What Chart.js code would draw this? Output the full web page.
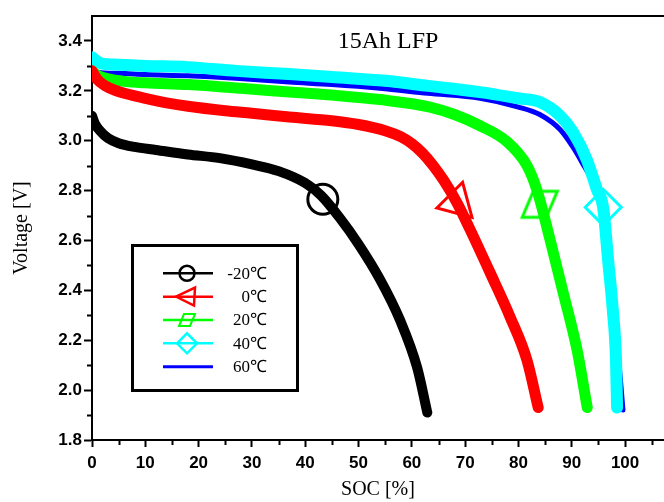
<!DOCTYPE html>
<html>
<head>
<meta charset="utf-8">
<script src="https://cdn.jsdelivr.net/npm/chart.js@4.4.1/dist/chart.umd.min.js"></script>
<style>
  html, body { margin: 0; padding: 0; background: #fff; }
</style>
</head>
<body>
<canvas id="chart" width="664" height="502"></canvas>
<script>
// discharge curves (SOC in %, voltage in V)
const socM20 = [0, 0.5, 1.5, 3, 5, 8, 12, 18, 24, 30, 35, 40, 43, 46.5, 50, 54, 57.8, 61, 62.9];
const vM20 = [3.10, 3.07, 3.04, 3.01, 2.99, 2.975, 2.963, 2.945, 2.93, 2.905, 2.878, 2.83, 2.78, 2.69, 2.585, 2.445, 2.28, 2.09, 1.91];

const soc0 = [0, 1, 2.5, 4, 7, 10, 14, 18, 25, 30, 37, 45, 50, 55, 58, 60, 62, 64, 66, 68.5, 70.9, 74.7, 78.4, 81.6, 83.7];
const v0 = [3.28, 3.245, 3.22, 3.205, 3.185, 3.17, 3.152, 3.138, 3.12, 3.11, 3.095, 3.08, 3.065, 3.04, 3.015, 2.988, 2.95, 2.9, 2.84, 2.75, 2.645, 2.47, 2.295, 2.12, 1.93];

const soc20 = [0, 1, 3, 6, 10, 18, 28, 37, 45, 54, 63.4, 68, 72.8, 77.9, 81.6, 83.5, 85.9, 88.4, 91, 92.9];
const v20 = [3.28, 3.262, 3.248, 3.238, 3.232, 3.225, 3.21, 3.195, 3.183, 3.165, 3.135, 3.105, 3.06, 2.995, 2.90, 2.80, 2.605, 2.39, 2.16, 1.93];

const soc40 = [0, 0.5, 1.7, 5, 10, 18, 27, 37, 45, 55, 63, 72.8, 80, 84, 87.8, 90.2, 92.8, 94.7, 95.9, 96.8, 97.7, 98.3, 98.5];
const v40 = [3.335, 3.325, 3.31, 3.305, 3.30, 3.295, 3.28, 3.267, 3.255, 3.24, 3.22, 3.195, 3.17, 3.155, 3.10, 3.035, 2.925, 2.805, 2.73, 2.525, 2.32, 2.12, 1.93];

const soc60 = [0, 1, 5, 10, 18, 27, 37, 45, 54, 63, 72.8, 80, 84, 87.8, 90.2, 92, 94, 95.5, 96.8, 97.7, 98.7, 99.6];
const v60 = [3.29, 3.275, 3.27, 3.265, 3.26, 3.25, 3.235, 3.225, 3.21, 3.19, 3.17, 3.135, 3.105, 3.045, 2.975, 2.91, 2.83, 2.74, 2.58, 2.39, 2.15, 1.92];

// one symbol per curve
const markerSoc = [43.3, 68.5, 84.0, 95.9];
const markerV = [2.765, 2.752, 2.745, 2.733];

const labels = ['-20℃', '0℃', '20℃', '40℃', '60℃'];
const colors = ['#000000', '#ff0000', '#00ff00', '#00ffff', '#0000ff'];

const toPoints = (xs, ys) => xs.map((x, i) => ({ x: x, y: ys[i] }));

// green symbol is a slanted box, not a plain square
function parallelogram(pw, ph, sk, lw, color) {
  const c = document.createElement('canvas');
  c.width = pw + sk + lw * 2 + 2;
  c.height = ph + lw * 2 + 2;
  const g = c.getContext('2d');
  const o = lw + 1;
  g.strokeStyle = color;
  g.lineWidth = lw;
  g.beginPath();
  g.moveTo(o + sk, o);
  g.lineTo(o + sk + pw, o);
  g.lineTo(o + pw, o + ph);
  g.lineTo(o, o + ph);
  g.closePath();
  g.stroke();
  return c;
}

const greenBox = parallelogram(24, 26, 11, 3, '#00ff00');
const greenBoxSmall = parallelogram(11, 12, 5, 2, '#00ff00');

const curves = [
  { soc: socM20, v: vM20, width: 10, order: 1 },
  { soc: soc0, v: v0, width: 11, order: 1 },
  { soc: soc20, v: v20, width: 11, order: 1 },
  { soc: soc40, v: v40, width: 12, order: 2 },
  { soc: soc60, v: v60, width: 5, order: 3 }
];

const markerStyles = [
  { style: 'circle', radius: 15, rotation: 0 },
  { style: 'triangle', radius: 21, rotation: -105 },
  { style: greenBox, radius: 14, rotation: 0 },
  { style: 'rectRot', radius: 18, rotation: 0 }
];

const datasets = curves.map((c, i) => ({
  label: labels[i],
  data: toPoints(c.soc, c.v),
  borderColor: colors[i],
  backgroundColor: colors[i],
  borderWidth: c.width,
  borderCapStyle: 'round',
  borderJoinStyle: 'round',
  cubicInterpolationMode: 'monotone',
  pointRadius: 0,
  fill: false,
  order: c.order
}));

markerStyles.forEach((m, i) => {
  datasets.push({
    label: labels[i] + ' marker',
    data: [{ x: markerSoc[i], y: markerV[i] }],
    showLine: false,
    pointStyle: m.style,
    pointRadius: m.radius,
    pointRotation: m.rotation,
    pointBorderWidth: 3,
    pointBorderColor: colors[i],
    pointBackgroundColor: 'rgba(0,0,0,0)',
    order: 0
  });
});

function legendMarker(ctx, i, x, y) {
  ctx.strokeStyle = colors[i];
  ctx.lineWidth = 2.5;
  ctx.beginPath();
  if (i === 0) {
    ctx.arc(x, y, 7.5, 0, Math.PI * 2);
  } else if (i === 1) {
    ctx.moveTo(x - 11, y);
    ctx.lineTo(x + 8, y - 9);
    ctx.lineTo(x + 7, y + 9);
    ctx.closePath();
  } else if (i === 3) {
    ctx.moveTo(x - 10, y);
    ctx.lineTo(x, y - 10);
    ctx.lineTo(x + 10, y);
    ctx.lineTo(x, y + 10);
    ctx.closePath();
  }
  ctx.stroke();
  if (i === 2) {
    ctx.drawImage(greenBoxSmall, x - greenBoxSmall.width / 2, y - greenBoxSmall.height / 2);
  }
}

const decorations = {
  id: 'decorations',
  afterDraw(chart) {
    const ctx = chart.ctx;
    const area = chart.chartArea;
    const xs = chart.scales.x;
    const ys = chart.scales.y;
    ctx.save();

    // top frame line
    ctx.strokeStyle = '#000';
    ctx.lineWidth = 2;
    ctx.beginPath();
    ctx.moveTo(area.left, area.top);
    ctx.lineTo(area.right, area.top);
    ctx.stroke();

    // minor ticks
    ctx.beginPath();
    for (let v = 5; v <= xs.max; v += 10) {
      const px = Math.round(xs.getPixelForValue(v)) + 0.5;
      ctx.moveTo(px, area.bottom);
      ctx.lineTo(px, area.bottom + 5);
    }
    for (let v = 1.9; v < ys.max; v += 0.2) {
      const py = Math.round(ys.getPixelForValue(v)) + 0.5;
      ctx.moveTo(area.left - 5, py);
      ctx.lineTo(area.left, py);
    }
    ctx.stroke();

    // title inside the plot
    ctx.fillStyle = '#000';
    ctx.font = '24px "Liberation Serif", "Times New Roman", serif';
    ctx.textAlign = 'center';
    ctx.textBaseline = 'alphabetic';
    ctx.fillText('15Ah LFP', 388, 48);

    // legend box
    ctx.lineWidth = 3;
    ctx.strokeRect(132.5, 245.5, 165, 145);
    ctx.font = '17px "Liberation Serif", "Times New Roman", serif';
    ctx.textAlign = 'right';
    ctx.textBaseline = 'middle';
    labels.forEach((lab, i) => {
      const y = 273.3 + i * 23.35;
      ctx.strokeStyle = colors[i];
      ctx.lineWidth = i === 4 ? 3 : 2.5;
      ctx.beginPath();
      ctx.moveTo(163, y);
      ctx.lineTo(213, y);
      ctx.stroke();
      if (i < 4) legendMarker(ctx, i, 187, y);
      ctx.fillStyle = '#000';
      ctx.fillText(lab, 267, y + 1);
    });

    ctx.restore();
  }
};

const tickFont = { family: '"Liberation Sans", Arial, sans-serif', size: 17, weight: 'bold' };
const titleFont = { family: '"Liberation Serif", "Times New Roman", serif', size: 20 };

new Chart(document.getElementById('chart'), {
  type: 'line',
  data: { datasets: datasets },
  options: {
    responsive: false,
    animation: false,
    events: [],
    layout: { autoPadding: false, padding: { top: 16, right: 0, bottom: 0, left: 0 } },
    plugins: {
      legend: { display: false },
      tooltip: { enabled: false }
    },
    scales: {
      x: {
        type: 'linear',
        min: 0,
        max: 107.3,
        border: { display: true, color: '#000', width: 2 },
        grid: { drawOnChartArea: false, drawTicks: true, tickLength: 7, tickColor: '#000', tickWidth: 2 },
        ticks: { stepSize: 10, includeBounds: false, color: '#000', font: tickFont, padding: 6, maxRotation: 0 },
        title: { display: true, text: 'SOC [%]', color: '#000', font: titleFont, padding: { top: 0, bottom: 0 } },
        afterFit: (s) => { s.height = 62; }
      },
      y: {
        type: 'linear',
        min: 1.8,
        max: 3.5,
        border: { display: true, color: '#000', width: 2 },
        grid: { drawOnChartArea: false, drawTicks: true, tickLength: 8, tickColor: '#000', tickWidth: 2 },
        ticks: { stepSize: 0.2, includeBounds: false, color: '#000', font: tickFont, padding: 2,
          callback: (v) => Number(v).toFixed(1) },
        title: { display: true, text: 'Voltage [V]', color: '#000', font: titleFont, padding: { top: 10, bottom: 0 } },
        afterFit: (s) => { s.width = 92; }
      }
    }
  },
  plugins: [decorations]
});
</script>
</body>
</html>
